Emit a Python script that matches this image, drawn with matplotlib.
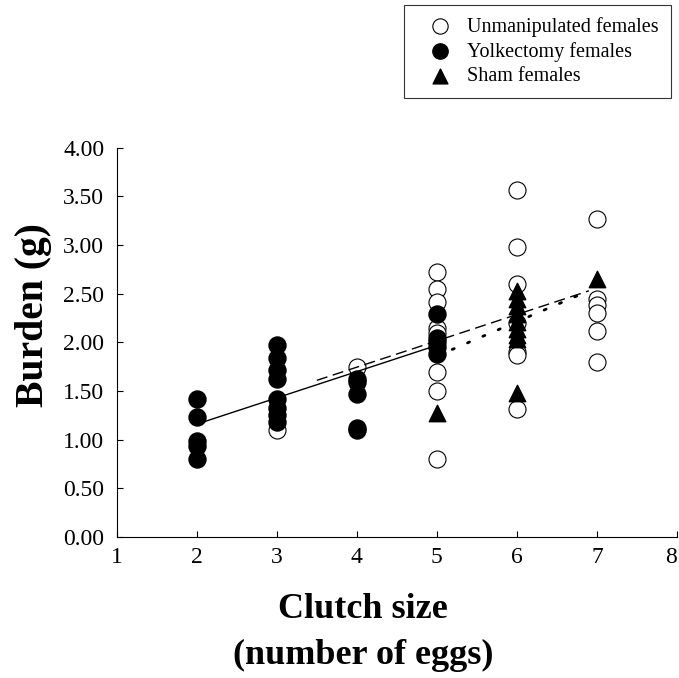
import numpy as np
import matplotlib
matplotlib.use('Agg')
from matplotlib import pyplot as plt

plt.rcParams['font.family'] = ['Liberation Serif', 'DejaVu Serif']

# unmanipulated females (open circles)
unman_x = [3, 4, 5, 5, 5, 5, 5, 5, 5, 5, 6, 6, 6, 6, 6, 6, 6, 7, 7, 7, 7, 7, 7]
unman_y = [1.10, 1.75, 2.72, 2.55, 2.42, 2.15, 2.10, 1.70, 1.50, 0.80,
           3.57, 2.98, 2.60, 2.20, 1.90, 1.87, 1.32,
           3.27, 2.45, 2.38, 2.30, 2.12, 1.80]

# yolkectomy females (filled circles)
yolk_x = [2, 2, 2, 2, 2, 3, 3, 3, 3, 3, 3, 3, 3, 4, 4, 4, 4, 4, 5, 5, 5, 5, 5]
yolk_y = [1.42, 1.23, 0.99, 0.94, 0.80,
          1.97, 1.84, 1.72, 1.62, 1.42, 1.33, 1.25, 1.18,
          1.62, 1.59, 1.47, 1.12, 1.10,
          2.29, 2.05, 2.00, 1.95, 1.88]

# sham females (triangles)
sham_x = [5, 6, 6, 6, 6, 6, 6, 6, 6, 6, 7]
sham_y = [1.27, 2.53, 2.45, 2.37, 2.29, 2.21, 2.14, 2.08, 2.03, 1.48, 2.65]

# regression lines
fit_solid_x = [2, 5]
fit_solid_y = [1.16, 1.97]
fit_dash_x = [3.5, 6.9]
fit_dash_y = [1.61, 2.53]
fit_dot_x = [5.0, 6.9]
fit_dot_y = [1.86, 2.53]

fig = plt.figure(figsize=(6.79, 6.78), dpi=100)
ax = fig.add_axes([0.172, 0.208, 0.825, 0.574])

ax.scatter(unman_x, unman_y, s=150, facecolor='white', edgecolor='black',
           linewidth=0.8, zorder=2, label='Unmanipulated females')
ax.scatter(yolk_x, yolk_y, s=150, color='black', zorder=3,
           label='Yolkectomy females')
ax.scatter(sham_x, sham_y, s=140, marker='^', color='black', zorder=4,
           label='Sham females')

ax.plot(fit_solid_x, fit_solid_y, color='black', lw=1.0, zorder=5)
ax.plot(fit_dash_x, fit_dash_y, color='black', lw=1.0, ls=(0, (8, 4)), zorder=5)
ax.plot(fit_dot_x, fit_dot_y, color='black', lw=2.0, ls=(0, (0.8, 5.2)),
        dash_capstyle='round', zorder=5)

ax.set_xlim(1, 8)
ax.set_ylim(0, 4)
ax.set_xticks(np.arange(1, 9))
ax.set_yticks(np.arange(0, 4.01, 0.5))
ax.set_yticklabels(['%.2f' % v for v in np.arange(0, 4.01, 0.5)])
ax.tick_params(direction='in', length=4, width=0.8, labelsize=17)
ax.tick_params(axis='y', pad=9)
ax.tick_params(axis='x', pad=7)
ax.get_xticklabels()[-1].set_horizontalalignment('right')
ax.spines['top'].set_visible(False)
ax.spines['right'].set_visible(False)

ax.set_xlabel('Clutch size\n(number of eggs)', fontsize=26, fontweight='bold',
              linespacing=1.5)
ax.xaxis.set_label_coords(0.44, -0.145, transform=ax.transAxes)
ax.xaxis.label.set_verticalalignment('top')
ax.set_ylabel('Burden (g)', fontsize=28.5, fontweight='bold')
ax.yaxis.set_label_coords(-0.115, 0.57)

leg = fig.legend(loc='upper right', bbox_to_anchor=(0.988, 0.993),
                 borderaxespad=0, fontsize=14.5, frameon=True, fancybox=False,
                 handlelength=2.4, handletextpad=0.15, borderpad=0.6,
                 labelspacing=0.25, markerscale=0.9)
leg.get_frame().set_edgecolor('black')
leg.get_frame().set_linewidth(0.8)

fig.savefig('out.png', dpi=100)
